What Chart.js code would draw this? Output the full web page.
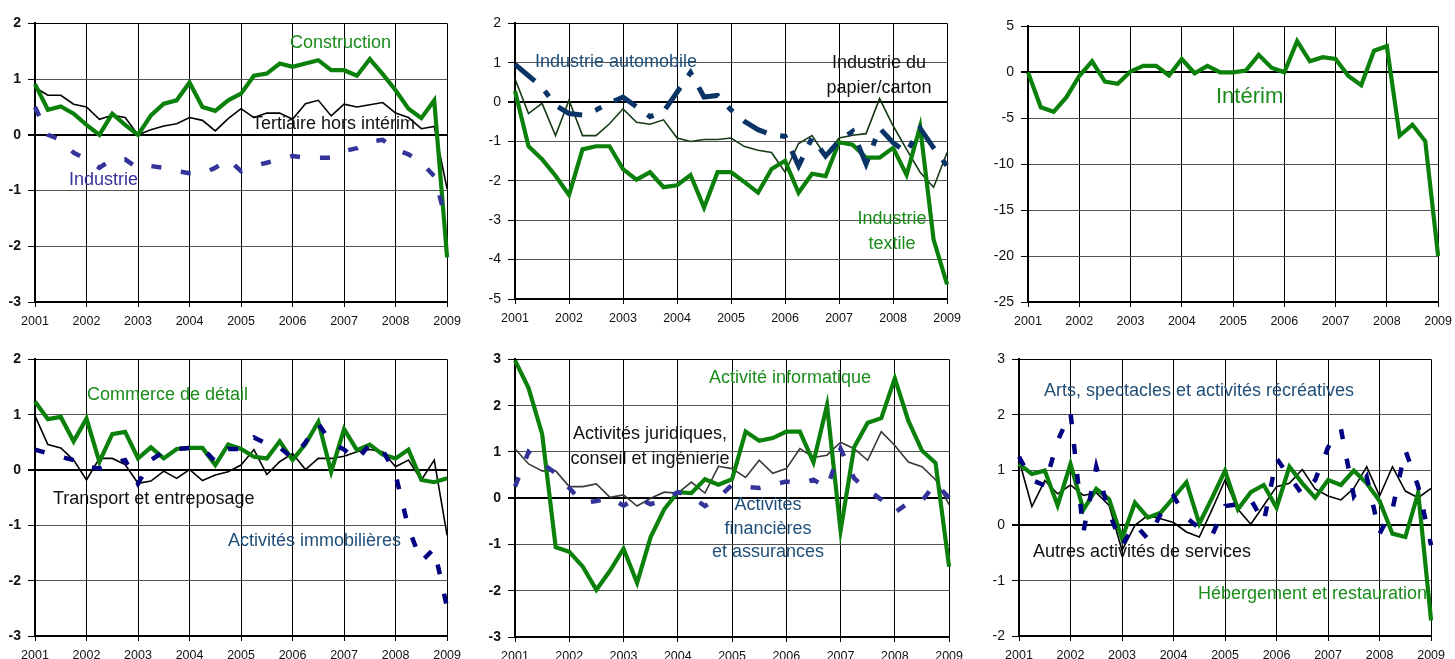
<!DOCTYPE html>
<html>
<head>
<meta charset="utf-8">
<script src="https://cdn.jsdelivr.net/npm/chart.js@4.4.1/dist/chart.umd.min.js"></script>
<style>
  body { margin: 0; width: 1455px; height: 659px; overflow: hidden; background: #fff; position: relative;
         font-family: Arial, "Liberation Sans", sans-serif; }
  .panel { position: absolute; }
  .lbl { position: absolute; font-size: 18px; line-height: 20px; white-space: nowrap; }
  .green { color: #1a8c1a; }
  .black { color: #111; }
  .blue1 { color: #333399; }
  .blue2 { color: #1f4e79; }
  .center { text-align: center; }
</style>
</head>
<body>

<!-- annotations -->
<div class="lbl green" style="left:290px;top:32px">Construction</div>
<div class="lbl black" style="left:252px;top:113px">Tertiaire hors intérim</div>
<div class="lbl blue1" style="left:69px;top:169px">Industrie</div>

<div class="lbl blue2" style="left:535px;top:51px">Industrie automobile</div>
<div class="lbl black center" style="left:819px;top:50px;width:120px;line-height:25px">Industrie du<br>papier/carton</div>
<div class="lbl green center" style="left:842px;top:206px;width:100px;line-height:25px">Industrie<br>textile</div>

<div class="lbl green" style="left:1216px;top:84px;font-size:22px;line-height:24px">Intérim</div>

<div class="lbl green" style="left:87px;top:384px">Commerce de détail</div>
<div class="lbl black" style="left:53px;top:488px">Transport et entreposage</div>
<div class="lbl blue2" style="left:228px;top:530px">Activités immobilières</div>

<div class="lbl green" style="left:709px;top:367px">Activité informatique</div>
<div class="lbl black center" style="left:560px;top:421px;width:180px;line-height:25px">Activités juridiques,<br>conseil et ingénierie</div>
<div class="lbl blue2 center" style="left:703px;top:493px;width:130px;line-height:23.5px">Activités<br>financières<br>et assurances</div>

<div class="lbl blue2" style="left:1044px;top:380px">Arts, spectacles et activités récréatives</div>
<div class="lbl black" style="left:1033px;top:541px">Autres activités de services</div>
<div class="lbl green" style="left:1198px;top:583px">Hébergement et restauration</div>

<script>
// quarterly observations, 2001T1 .. 2009T1
const years = ['2001', '2002', '2003', '2004', '2005', '2006', '2007', '2008', '2009'];

// top left
const construction = [0.91, 0.45, 0.51, 0.38, 0.18, 0.0, 0.38, 0.18, 0.0, 0.35, 0.56, 0.62, 0.94, 0.5, 0.43, 0.62,
    0.74, 1.06, 1.1, 1.28, 1.22, 1.28, 1.34, 1.16, 1.16, 1.06, 1.36, 1.09, 0.8, 0.47, 0.3, 0.62, -2.2];
const tertiaire = [0.85, 0.71, 0.71, 0.55, 0.5, 0.28, 0.35, 0.31, 0.0, 0.09, 0.16, 0.2, 0.31, 0.26, 0.07, 0.29,
    0.47, 0.31, 0.39, 0.39, 0.28, 0.56, 0.62, 0.34, 0.55, 0.5, 0.54, 0.58, 0.39, 0.31, 0.11, 0.15, -0.97];
const industrie = [0.5, 0.0, -0.09, -0.32, -0.44, -0.59, -0.44, -0.44, -0.6, -0.56, -0.59, -0.65, -0.69, -0.7, -0.59, -0.44,
    -0.65, -0.56, -0.5, -0.44, -0.38, -0.41, -0.41, -0.41, -0.29, -0.24, -0.12, -0.09, -0.26, -0.35, -0.5, -0.74, -1.6];

// top middle
const textile = [0.28, -1.12, -1.45, -1.87, -2.36, -1.2, -1.12, -1.12, -1.7, -1.97, -1.78, -2.16, -2.11, -1.85, -2.68, -1.78,
    -1.78, -2.03, -2.3, -1.7, -1.49, -2.3, -1.82, -1.88, -1.02, -1.08, -1.41, -1.41, -1.16, -1.85, -0.62, -3.49, -4.63];
const papierCarton = [0.59, -0.29, -0.03, -0.85, 0.05, -0.85, -0.85, -0.55, -0.17, -0.51, -0.56, -0.45, -0.91, -1.0, -0.95, -0.95,
    -0.91, -1.13, -1.22, -1.28, -1.78, -1.05, -0.85, -1.37, -0.91, -0.84, -0.8, 0.09, -0.6, -1.2, -1.78, -2.16, -1.28];
const automobile = [0.96, 0.67, 0.38, -0.08, -0.29, -0.33, -0.2, -0.02, 0.13, -0.12, -0.37, -0.24, 0.25, 0.75, 0.13, 0.17,
    -0.2, -0.49, -0.7, -0.83, -0.87, -1.62, -0.91, -1.37, -0.99, -0.74, -1.57, -0.66, -1.03, -1.28, -0.66, -1.16, -1.62];

// top right
const interim = [0, -3.8, -4.3, -2.7, -0.4, 1.2, -1.0, -1.25, 0.1, 0.7, 0.7, -0.35, 1.45, -0.1, 0.7, 0,
    0, 0.2, 1.9, 0.5, 0, 3.4, 1.2, 1.65, 1.45, -0.4, -1.4, 2.35, 2.85, -6.9, -5.7, -7.5, -20.0];

// bottom left
const commerce = [1.24, 0.92, 0.96, 0.52, 0.93, 0.15, 0.65, 0.69, 0.21, 0.41, 0.21, 0.38, 0.4, 0.4, 0.09, 0.46,
    0.38, 0.24, 0.21, 0.52, 0.18, 0.47, 0.87, -0.03, 0.74, 0.36, 0.46, 0.28, 0.21, 0.37, -0.18, -0.22, -0.15];
const transport = [0.98, 0.46, 0.4, 0.18, -0.18, 0.21, 0.21, 0.1, -0.24, -0.2, -0.02, -0.15, 0.01, -0.19, -0.09, -0.03,
    0.09, 0.37, -0.08, 0.15, 0.3, 0.01, 0.21, 0.21, 0.25, 0.33, 0.37, 0.33, 0.06, 0.18, -0.18, 0.18, -1.18];
const immobilier = [0.37, 0.3, 0.24, 0.18, 0.06, 0.03, 0.12, 0.18, -0.25, 0.18, 0.33, 0.38, 0.4, 0.4, 0.15, 0.38,
    0.38, 0.59, 0.47, 0.41, 0.21, 0.5, 0.84, 0.5, 0.37, 0.18, 0.47, 0.36, -0.08, -1.05, -1.65, -1.42, -2.49];

// bottom middle
const informatique = [2.98, 2.38, 1.39, -1.06, -1.16, -1.48, -1.98, -1.57, -1.09, -1.83, -0.84, -0.24, 0.13, 0.11, 0.41, 0.29,
    0.41, 1.44, 1.24, 1.3, 1.44, 1.44, 0.78, 2.01, -0.7, 1.1, 1.63, 1.73, 2.59, 1.67, 1.03, 0.76, -1.48];
const juridiques = [1.07, 0.74, 0.59, 0.59, 0.25, 0.25, 0.31, 0.02, 0.07, -0.17, 0.0, 0.13, 0.11, 0.35, 0.11, 0.69,
    0.64, 0.45, 0.82, 0.54, 0.64, 1.07, 0.88, 0.93, 1.21, 1.07, 0.82, 1.44, 1.14, 0.78, 0.68, 0.4, -0.14];
const financieres = [0.25, 1.0, 0.75, 0.54, 0.22, -0.1, -0.06, 0.01, -0.16, 0.01, -0.13, -0.03, 0.13, 0.04, -0.17, 0.01,
    0.29, 0.25, 0.22, 0.29, 0.36, 0.32, 0.4, 0.22, 1.07, 0.43, 0.18, -0.03, -0.31, -0.1, -0.06, 0.32, 0.01];

// bottom right
const hebergement = [1.11, 0.93, 0.99, 0.36, 1.11, 0.28, 0.66, 0.47, -0.24, 0.41, 0.14, 0.23, 0.5, 0.78, 0.03, 0.5,
    0.99, 0.29, 0.6, 0.73, 0.32, 1.06, 0.76, 0.5, 0.82, 0.73, 0.99, 0.76, 0.44, -0.15, -0.21, 0.59, -1.72];
const autresServices = [1.18, 0.34, 0.81, 0.57, 0.73, 0.54, 0.59, 0.36, -0.45, 0.0, 0.18, 0.12, 0.05, -0.12, -0.21, 0.29,
    0.82, 0.29, 0.02, 0.36, 0.7, 0.76, 1.01, 0.66, 0.53, 0.46, 0.67, 1.06, 0.53, 1.06, 0.62, 0.5, 0.67];
const arts = [1.24, 0.82, 0.72, 1.53, 2.04, -0.12, 1.06, 0.23, -0.36, 0.02, -0.24, 0.2, 0.53, 0.14, -0.05, -0.18,
    0.35, 0.38, 0.47, 0.05, 1.21, 0.88, 0.56, 0.82, 1.41, 1.74, 0.53, 0.88, -0.15, 0.29, 1.36, 0.7, -0.36];

const quarters = years.flatMap(y => y === '2009' ? [y + 'T1'] : [y + 'T1', y + 'T2', y + 'T3', y + 'T4']);

const GREEN = '#0b800b';
const FONT = 'Arial, "Liberation Sans", sans-serif';

const thick = (data, color) => ({ data, color, width: 4.2 });
const thin = (data, color) => ({ data, color, width: 1.6 });
const dashed = (data, color, dash, width) => ({ data, color, width: width || 4.5, dash: dash || [10, 20] });

const panels = [
    { box: [35, 18, 452, 302], yw: 35, y: [-3, 2, 1], bold: true,
      series: [dashed(industrie, '#333399'), thick(construction, GREEN), thin(tertiaire, '#000')] },
    { box: [515, 18, 952, 299], yw: 45, y: [-5, 2, 1], bold: false,
      series: [dashed(automobile, '#0a3366', [26, 14, 7, 14], 5), thick(textile, GREEN), thin(papierCarton, '#163a16')] },
    { box: [1028, 21, 1443, 302], yw: 50, y: [-25, 5, 5], bold: false,
      series: [thick(interim, GREEN)] },
    { box: [35, 354, 452, 636], yw: 35, y: [-3, 2, 1], bold: true,
      series: [dashed(immobilier, '#000080'), thick(commerce, GREEN), thin(transport, '#000')] },
    { box: [515, 354, 954, 637], yw: 45, y: [-3, 3, 1], bold: true,
      series: [dashed(financieres, '#333399'), thick(informatique, GREEN), thin(juridiques, '#3a3a3a')] },
    { box: [1019, 354, 1436, 636], yw: 45, y: [-2, 3, 1], bold: false,
      series: [dashed(arts, '#000080'), thick(hebergement, GREEN), thin(autresServices, '#000')] }
];

function makePanel(p) {
    const [L, T, R, B] = p.box;
    const pt = 10, pr = 16, xh = 30;
    const [yMin, yMax, step] = p.y;

    const wrap = document.createElement('div');
    wrap.className = 'panel';
    wrap.style.left = (L - p.yw) + 'px';
    wrap.style.top = (T - pt) + 'px';
    const canvas = document.createElement('canvas');
    canvas.width = R - L + p.yw + pr;
    canvas.height = B - T + pt + xh;
    wrap.appendChild(canvas);
    document.body.insertBefore(wrap, document.body.firstChild);

    const yearTick = c => c.index % 4 === 0 ? '#000' : 'rgba(0,0,0,0)';

    new Chart(canvas, {
        type: 'line',
        data: {
            labels: quarters,
            datasets: p.series.map(s => ({
                data: s.data,
                borderColor: s.color,
                borderWidth: s.width,
                borderDash: s.dash || [],
                borderCapStyle: 'butt',
                pointRadius: 0,
                tension: 0,
                fill: false
            }))
        },
        options: {
            responsive: false,
            animation: false,
            devicePixelRatio: 1,
            layout: { padding: { top: pt, right: pr, left: 0, bottom: 0 } },
            plugins: { legend: { display: false }, tooltip: { enabled: false } },
            scales: {
                x: {
                    type: 'category',
                    offset: false,
                    grid: { color: yearTick, tickColor: yearTick, lineWidth: 1, tickLength: 5 },
                    border: { color: '#000', width: 2 },
                    ticks: {
                        autoSkip: false, maxRotation: 0, minRotation: 0, padding: 7,
                        color: '#111', font: { family: FONT, size: 12.5 },
                        callback: (v, i) => quarters[i].endsWith('T1') ? quarters[i].slice(0, 4) : ''
                    },
                    afterFit: s => { s.height = xh; }
                },
                y: {
                    min: yMin, max: yMax,
                    grid: {
                        color: c => (c.tick.value === 0 || c.tick.value === yMax) ? '#000' : '#555',
                        lineWidth: c => c.tick.value === 0 ? 2 : 1,
                        tickColor: '#000', tickLength: 7
                    },
                    border: { color: '#000', width: 2 },
                    ticks: {
                        stepSize: step, padding: 7, color: '#111',
                        font: { family: FONT, size: 14, weight: p.bold ? 'bold' : 'normal' }
                    },
                    afterFit: s => { s.width = p.yw; }
                }
            }
        }
    });
}

panels.forEach(makePanel);
</script>
</body>
</html>
